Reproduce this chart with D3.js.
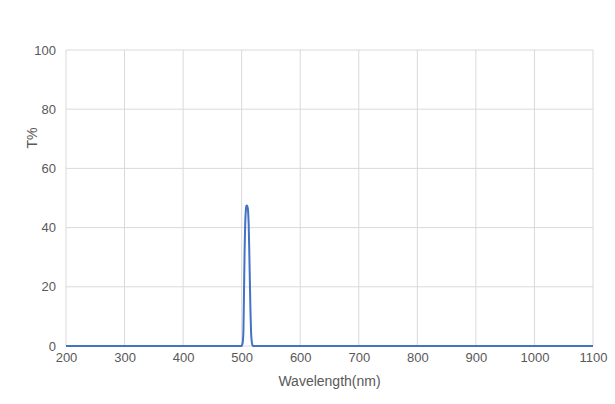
<!DOCTYPE html>
<html>
<head>
<meta charset="utf-8">
<script src="https://d3js.org/d3.v7.min.js"></script>
<style>
  body { margin: 0; background: #fff; }
  text { font-family: "Liberation Sans", Arial, sans-serif; fill: #595959; }
</style>
</head>
<body>
<div id="chart"></div>
<script>
// transmission curve
var wavelength = [200, 495, 500, 501, 502, 503, 504, 505, 506, 507, 508, 509, 510, 511, 512, 513, 514, 515, 516, 517, 518, 519, 520, 1100];
var transmission = [0, 0, 0, 0.5, 1.5, 5, 18, 32, 41, 45.5, 47.3, 47.5, 47, 45.5, 41, 32, 22, 12, 5, 1.8, 0.6, 0.1, 0, 0];
var xTicks = [200, 300, 400, 500, 600, 700, 800, 900, 1000, 1100];
var yTicks = [0, 20, 40, 60, 80, 100];

var W = 615, H = 404;
var margin = {top: 50, right: 22, bottom: 58, left: 66};
var width = W - margin.left - margin.right,
    height = H - margin.top - margin.bottom;

var svg = d3.select("#chart").append("svg")
  .attr("width", W).attr("height", H);
var g = svg.append("g")
  .attr("transform", "translate(" + margin.left + "," + margin.top + ")");

var x = d3.scaleLinear().domain([200, 1100]).range([0, width]);
var y = d3.scaleLinear().domain([0, 100]).range([height, 0]);

// grid
g.selectAll(".vg").data(xTicks).enter().append("line")
  .attr("x1", d => x(d)).attr("x2", d => x(d))
  .attr("y1", 0).attr("y2", height)
  .attr("stroke", "#d9d9d9").attr("stroke-width", 1);
g.selectAll(".hg").data(yTicks).enter().append("line")
  .attr("x1", 0).attr("x2", width)
  .attr("y1", d => y(d)).attr("y2", d => y(d))
  .attr("stroke", "#d9d9d9").attr("stroke-width", 1);

// axes (labels only)
var xAxis = g.append("g")
  .attr("transform", "translate(0," + height + ")")
  .call(d3.axisBottom(x).tickValues(xTicks).tickFormat(d3.format("d")).tickSize(0).tickPadding(7));
var yAxis = g.append("g")
  .call(d3.axisLeft(y).tickValues(yTicks).tickFormat(d3.format("d")).tickSize(0).tickPadding(10));
[xAxis, yAxis].forEach(function (a) {
  a.select(".domain").remove();
  a.selectAll("text").attr("font-size", 13).attr("fill", "#595959")
    .attr("font-family", "Liberation Sans, Arial, sans-serif");
});

// line
var data = wavelength.map((w, i) => ({w: w, t: transmission[i]}));
g.append("path").datum(data)
  .attr("fill", "none")
  .attr("stroke", "#4472c4")
  .attr("stroke-width", 2)
  .attr("d", d3.line().x(d => x(d.w)).y(d => y(d.t)).curve(d3.curveMonotoneX));

// titles
svg.append("text")
  .attr("x", margin.left + width / 2).attr("y", 386)
  .attr("text-anchor", "middle").attr("font-size", 14)
  .text("Wavelength(nm)");
svg.append("text")
  .attr("transform", "translate(37," + (margin.top + height / 2 - 60) + ") rotate(-90)")
  .attr("text-anchor", "middle").attr("font-size", 14)
  .text("T%");
</script>
</body>
</html>
